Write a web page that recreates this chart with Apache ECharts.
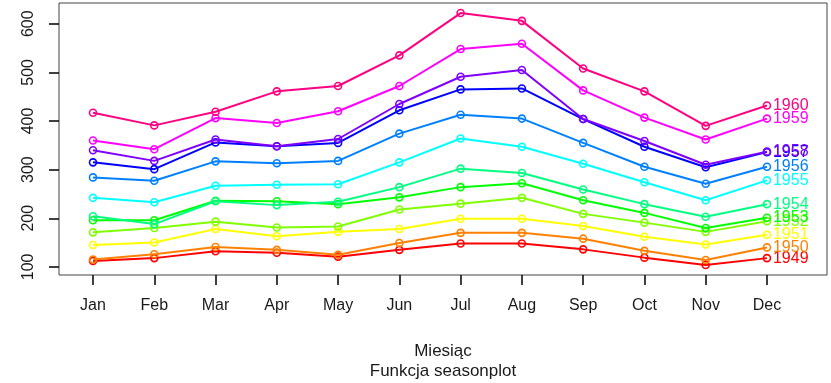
<!DOCTYPE html>
<html>
<head>
<meta charset="utf-8">
<script src="https://cdn.jsdelivr.net/npm/echarts@6/dist/echarts.min.js"></script>
<style>
  html, body { margin: 0; padding: 0; background: #fff; }
  #chart { width: 831px; height: 383px; }
</style>
</head>
<body>
<div id="chart"></div>
<script>
// Monthly airline passengers (thousands), one line per year
const months = ['Jan', 'Feb', 'Mar', 'Apr', 'May', 'Jun', 'Jul', 'Aug', 'Sep', 'Oct', 'Nov', 'Dec'];
const years = ['1949', '1950', '1951', '1952', '1953', '1954', '1955', '1956', '1957', '1958', '1959', '1960'];
const y1949 = [112, 118, 132, 129, 121, 135, 148, 148, 136, 119, 104, 118];
const y1950 = [115, 126, 141, 135, 125, 149, 170, 170, 158, 133, 114, 140];
const y1951 = [145, 150, 178, 163, 172, 178, 199, 199, 184, 162, 146, 166];
const y1952 = [171, 180, 193, 181, 183, 218, 230, 242, 209, 191, 172, 194];
const y1953 = [196, 196, 236, 235, 229, 243, 264, 272, 237, 211, 180, 201];
const y1954 = [204, 188, 235, 227, 234, 264, 302, 293, 259, 229, 203, 229];
const y1955 = [242, 233, 267, 269, 270, 315, 364, 347, 312, 274, 237, 278];
const y1956 = [284, 277, 317, 313, 318, 374, 413, 405, 355, 306, 271, 306];
const y1957 = [315, 301, 356, 348, 355, 422, 465, 467, 404, 347, 305, 336];
const y1958 = [340, 318, 362, 348, 363, 435, 491, 505, 404, 359, 310, 337];
const y1959 = [360, 342, 406, 396, 420, 472, 548, 559, 463, 407, 362, 405];
const y1960 = [417, 391, 419, 461, 472, 535, 622, 606, 508, 461, 390, 432];
const yTicks = [100, 200, 300, 400, 500, 600];

const yearValues = [y1949, y1950, y1951, y1952, y1953, y1954, y1955, y1956, y1957, y1958, y1959, y1960];
const palette = ['#FF0000', '#FF8000', '#FFFF00', '#80FF00', '#00FF00', '#00FF80',
                 '#00FFFF', '#0080FF', '#0000FF', '#8000FF', '#FF00FF', '#FF0080'];
const monthPos = months.map((m, i) => i + 1);

const FONT = 'Arimo, "Liberation Sans", Arial, sans-serif';
const TEXT = '#1a1a1a';

const series = years.map((yr, k) => ({
  name: yr,
  type: 'line',
  data: yearValues[k].map((v, i) => [monthPos[i], v]),
  symbol: 'circle',
  symbolSize: 7,
  lineStyle: { color: palette[k], width: 2 },
  itemStyle: { color: 'rgba(0,0,0,0)', borderColor: palette[k], borderWidth: 1.6 },
  endLabel: {
    show: true,
    formatter: yr,
    color: palette[k],
    fontFamily: FONT,
    fontSize: 16,
    distance: 6
  },
  emphasis: { disabled: true },
  z: 2 + k
}));

const chart = echarts.init(document.getElementById('chart'), null, { renderer: 'canvas' });
chart.setOption({
  animation: false,
  backgroundColor: '#fff',
  grid: {
    left: 59, right: 4, top: 3, height: 272,
    show: true, borderColor: '#444', borderWidth: 1, backgroundColor: 'transparent'
  },
  title: {
    text: 'Funkcja seasonplot',
    left: 443,
    textAlign: 'center',
    top: 363,
    padding: 0,
    textStyle: { fontFamily: FONT, fontSize: 17, fontWeight: 'normal', color: TEXT }
  },
  xAxis: {
    type: 'value',
    min: 0.445,
    max: 12.98,
    splitLine: { show: false },
    axisLine: { show: false },
    axisTick: {
      show: true, length: 10, customValues: monthPos,
      lineStyle: { color: '#000', width: 1.5 }
    },
    axisLabel: {
      customValues: monthPos,
      formatter: v => months[Math.round(v) - 1],
      margin: 23,
      fontFamily: FONT, fontSize: 16, color: TEXT
    },
    name: 'Miesiąc',
    nameLocation: 'middle',
    nameGap: 68,
    nameTextStyle: { fontFamily: FONT, fontSize: 17, color: TEXT }
  },
  yAxis: {
    type: 'value',
    min: 83.28,
    max: 642.72,
    splitLine: { show: false },
    axisLine: { show: false },
    axisTick: {
      show: true, length: 10, customValues: yTicks,
      lineStyle: { color: '#000', width: 1.5 }
    },
    axisLabel: {
      customValues: yTicks,
      rotate: 90,
      margin: 22,
      fontFamily: FONT, fontSize: 16, color: TEXT
    }
  },
  series: series
});
</script>
</body>
</html>
